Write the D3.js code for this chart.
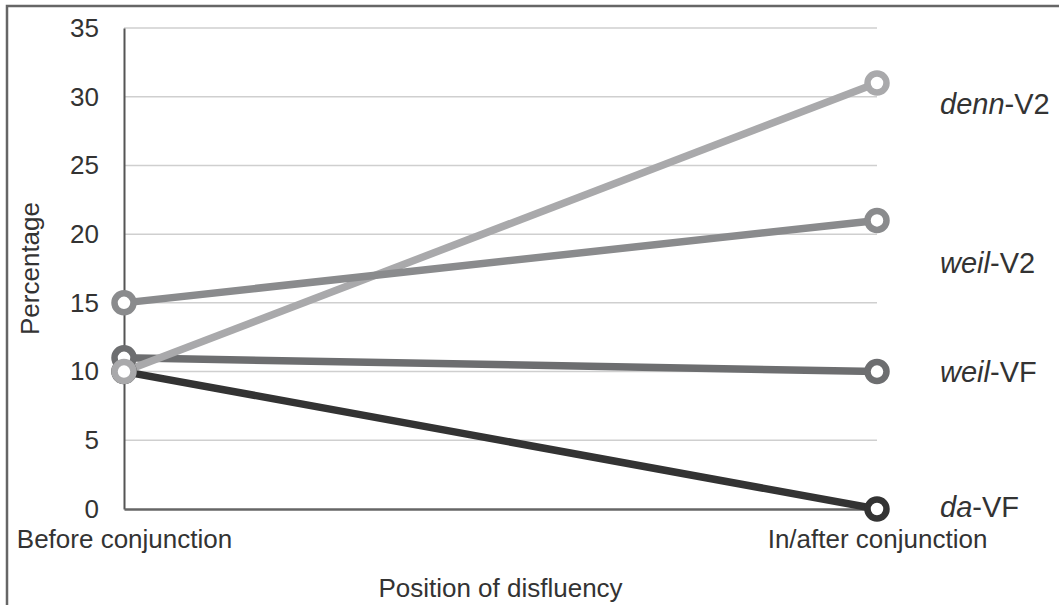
<!DOCTYPE html>
<html>
<head>
<meta charset="utf-8">
<script src="https://cdn.jsdelivr.net/npm/d3@7"></script>
<style>
  body { margin: 0; background: #fff; }
  text { font-family: "Liberation Sans", Arial, sans-serif; fill: #333; }
</style>
</head>
<body>
<svg id="chart"></svg>
<script>
var positions = ["Before conjunction", "In/after conjunction"];
var yTicks = [0, 5, 10, 15, 20, 25, 30, 35];

var seriesNames = [
  { stem: "da", rest: "-VF" },
  { stem: "weil", rest: "-VF" },
  { stem: "denn", rest: "-V2" },
  { stem: "weil", rest: "-V2" }
];
var daVF   = [10, 0];
var weilVF = [11, 10];
var dennV2 = [10, 31];
var weilV2 = [15, 21];
var seriesColors = ["#333333", "#6d6e70", "#a9a9ab", "#8a8b8d"];

var series = [daVF, weilVF, dennV2, weilV2].map(function(vals, i) {
  return { name: seriesNames[i], color: seriesColors[i],
           points: vals.map(function(v, j) { return { pos: positions[j], value: v }; }) };
});

var width = 1059, height = 605;
var margin = { left: 124, right: 182, top: 28, bottom: 96 };

var svg = d3.select("#chart").attr("width", width).attr("height", height);

// frame (top and left edges only)
svg.append("path")
    .attr("d", "M7," + height + "V6H" + width)
    .attr("fill", "none")
    .attr("stroke", "#666")
    .attr("stroke-width", 2.5);

var x = d3.scalePoint()
          .domain(positions)
          .range([margin.left, width - margin.right]);

var y = d3.scaleLinear()
          .domain([0, 35])
          .range([height - margin.bottom, margin.top]);

// gridlines
svg.append("g")
    .selectAll("line")
    .data(yTicks.filter(d => d > 0))
    .enter()
      .append("line")
      .attr("x1", x.range()[0])
      .attr("x2", x.range()[1])
      .attr("y1", d => y(d))
      .attr("y2", d => y(d))
      .attr("stroke", "#cfcfcf")
      .attr("stroke-width", 1.5);

// y axis
var yAxis = svg.append("g")
    .attr("transform", "translate(" + margin.left + ",0)")
    .call(d3.axisLeft(y).tickValues(yTicks).tickSize(0).tickPadding(25));
yAxis.select(".domain").attr("stroke", "#555").attr("stroke-width", 2);
yAxis.selectAll("text").attr("font-size", 26).style("fill", "#333");

// x axis
var xAxis = svg.append("g")
    .attr("transform", "translate(0," + y(0) + ")")
    .call(d3.axisBottom(x).tickSize(0).tickPadding(21));
xAxis.select(".domain").attr("stroke", "#666").attr("stroke-width", 2.5);
xAxis.selectAll("text").attr("font-size", 26).style("fill", "#333");

// axis titles
svg.append("text")
    .attr("x", (x.range()[0] + x.range()[1]) / 2)
    .attr("y", 597)
    .attr("font-size", 26)
    .style("text-anchor", "middle")
    .text("Position of disfluency");

svg.append("text")
    .attr("transform", "translate(39," + (y(17.5)) + ") rotate(-90)")
    .attr("font-size", 26)
    .style("text-anchor", "middle")
    .text("Percentage");

var line = d3.line()
             .x(d => x(d.pos))
             .y(d => y(d.value));

// lines first, then markers
svg.append("g")
    .selectAll("path")
    .data(series)
    .enter()
      .append("path")
      .attr("d", d => line(d.points))
      .attr("fill", "none")
      .attr("stroke", d => d.color)
      .attr("stroke-width", 7.5);

var markerOrder = [0, 1, 3, 2];
svg.append("g")
    .selectAll("g")
    .data(markerOrder.map(i => series[i]))
    .enter()
      .append("g")
      .selectAll("circle")
      .data(d => d.points.map(p => ({ p: p, color: d.color })))
      .enter()
        .append("circle")
        .attr("cx", d => x(d.p.pos))
        .attr("cy", d => y(d.p.value))
        .attr("r", 9.5)
        .attr("fill", "#fff")
        .attr("stroke", d => d.color)
        .attr("stroke-width", 6.5);

// series labels at the right end
var labelShift = [-2, 0, 21, 42];
var labels = svg.append("g")
    .selectAll("text")
    .data(series)
    .enter()
      .append("text")
      .attr("x", 940)
      .attr("y", (d, i) => y(d.points[1].value) + labelShift[i])
      .attr("dy", "0.36em")
      .attr("font-size", 29);

labels.append("tspan").style("font-style", "italic").text(d => d.name.stem);
labels.append("tspan").text(d => d.name.rest);
</script>
</body>
</html>
